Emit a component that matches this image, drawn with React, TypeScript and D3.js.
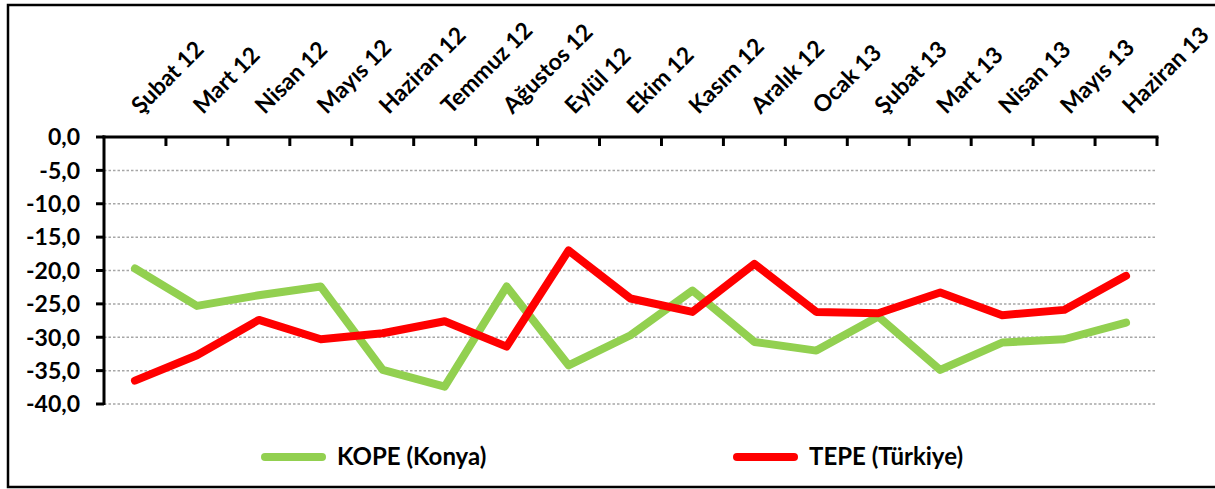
import React from 'react';
import * as d3 from 'd3';

// Kategoriler (aylar) ve seriler
const months = [
  'Şubat 12', 'Mart 12', 'Nisan 12', 'Mayıs 12', 'Haziran 12', 'Temmuz 12',
  'Ağustos 12', 'Eylül 12', 'Ekim 12', 'Kasım 12', 'Aralık 12', 'Ocak 13',
  'Şubat 13', 'Mart 13', 'Nisan 13', 'Mayıs 13', 'Haziran 13',
];

const kope = [
  -19.7, -25.3, -23.7, -22.4, -34.9, -37.4, -22.4, -34.2, -29.7, -23.0,
  -30.7, -32.0, -26.9, -34.9, -30.8, -30.3, -27.8,
];

const tepe = [
  -36.5, -32.7, -27.4, -30.3, -29.4, -27.6, -31.4, -17.0, -24.2, -26.2,
  -19.0, -26.2, -26.4, -23.3, -26.7, -25.9, -20.8,
];

const yTicks = [0, -5, -10, -15, -20, -25, -30, -35, -40];

const series = [
  {name: 'KOPE (Konya)', values: kope, color: '#92D050'},
  {name: 'TEPE (Türkiye)', values: tepe, color: '#FF0000'},
];

const W = 1215;
const H = 489;
const FONT = 'Lato, "DejaVu Sans", sans-serif';

const fmt = (v: number) => v.toFixed(1).replace('.', ',');

export default function App() {
  const x = d3.scaleBand<string>().domain(months).range([104, 1157]);
  const y = d3.scaleLinear().domain([-40, 0]).range([404, 137]);

  const line = d3
    .line<number>()
    .x((_, i) => (x(months[i]) || 0) + x.bandwidth() / 2)
    .y((d) => y(d));

  const boundaries = months.map((m) => x(m) || 0).concat([x.range()[1]]);

  return (
    <svg
      width={W}
      height={H}
      style={{position: 'absolute', left: 0, top: 0, background: '#fff'}}
      fontFamily={FONT}
      fontWeight={700}
    >
      <rect x={8} y={5} width={W} height={482} fill="#fff" stroke="#000" strokeWidth={2.5} />

      {/* grid */}
      {yTicks.slice(1).map((t) => (
        <line
          key={t}
          x1={104}
          x2={1155}
          y1={y(t)}
          y2={y(t)}
          stroke="#a6a6a6"
          strokeWidth={1.5}
          strokeDasharray="2.5,2"
        />
      ))}

      {/* y axis */}
      <line x1={104} x2={104} y1={y(0) - 1.5} y2={y(-40) + 1} stroke="#000" strokeWidth={3} />
      {yTicks.map((t) => (
        <g key={t}>
          <line x1={96} x2={104} y1={y(t)} y2={y(t)} stroke="#000" strokeWidth={3} />
          <text x={80} y={y(t)} dy="0.36em" textAnchor="end" fontSize={23} fill="#000">
            {fmt(t)}
          </text>
        </g>
      ))}

      {/* x axis on top */}
      <line x1={102.5} x2={1158.5} y1={y(0)} y2={y(0)} stroke="#000" strokeWidth={3} />
      {boundaries.slice(1).map((b, i) => (
        <line key={i} x1={b} x2={b} y1={y(0)} y2={y(0) + 9} stroke="#000" strokeWidth={3} />
      ))}
      {months.map((m) => {
        const cx = (x(m) || 0) + x.bandwidth() / 2 + 6;
        return (
          <text
            key={m}
            transform={`translate(${cx},115) rotate(-45)`}
            fontSize={23}
            fill="#000"
          >
            {m}
          </text>
        );
      })}

      {/* lines */}
      {series.map((s) => (
        <path
          key={s.name}
          d={line(s.values) || ''}
          fill="none"
          stroke={s.color}
          strokeWidth={8}
          strokeLinejoin="round"
          strokeLinecap="round"
        />
      ))}

      {/* legend */}
      {series.map((s, i) => {
        const lx = i === 0 ? 265 : 737;
        return (
          <g key={s.name}>
            <line x1={lx} x2={lx + 57} y1={457} y2={457} stroke={s.color} strokeWidth={8} strokeLinecap="round" />
            <text x={lx + 72} y={465} fontSize={24} fill="#000">
              {s.name}
            </text>
          </g>
        );
      })}
    </svg>
  );
}
